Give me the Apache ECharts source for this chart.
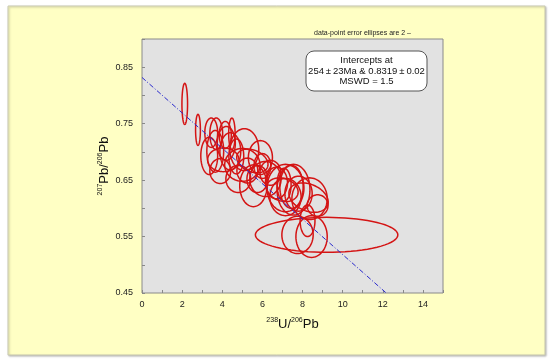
<!DOCTYPE html>
<html><head><meta charset="utf-8">
<script src="https://cdn.jsdelivr.net/npm/echarts@6/dist/echarts.min.js"></script>
<style>html,body{margin:0;padding:0;background:#fff;}#c{width:550px;height:364px;}</style>
</head><body><div id="c"></div>
<script>
// Error ellipse data (238U/206Pb, 207Pb/206Pb, half-axis x, half-axis y, correlation)
var ellX  = [2.13,2.79,3.45,3.70,4.15,4.48,5.10,3.35,4.05,5.00,5.50,4.80,5.75,6.15,7.00,7.08,7.45,8.35,8.75,5.55,7.15,7.55,8.30,7.75,8.25,8.45,9.20,7.15,7.80,3.65,4.40,4.70,3.90,5.25,6.00,6.40,4.20,6.70,5.90];
var ellY  = [0.785,0.739,0.734,0.732,0.730,0.732,0.704,0.693,0.686,0.677,0.684,0.652,0.652,0.652,0.633,0.642,0.638,0.617,0.605,0.640,0.636,0.633,0.619,0.553,0.578,0.550,0.553,0.620,0.626,0.701,0.701,0.692,0.666,0.667,0.675,0.663,0.715,0.645,0.690];
var ellSX = [0.14,0.12,0.32,0.32,0.30,0.16,0.72,0.42,0.78,0.88,0.78,0.62,0.52,0.78,0.78,0.35,0.58,0.88,0.52,0.68,0.92,0.82,0.98,0.78,0.37,0.78,3.55,0.78,0.68,0.42,0.52,0.37,0.52,0.52,0.42,0.52,0.45,0.55,0.60];
var ellSY = [0.0365,0.0276,0.026,0.028,0.024,0.028,0.037,0.033,0.021,0.029,0.021,0.024,0.024,0.031,0.021,0.029,0.038,0.037,0.019,0.037,0.042,0.045,0.026,0.033,0.028,0.037,0.031,0.033,0.031,0.037,0.033,0.031,0.022,0.022,0.022,0.022,0.030,0.028,0.030];
var ellR  = [0,0,0,0,0,0,0,0,0,0,-0.3,0,0,0,-0.2,0,0,0,0,0,0,0,-0.3,0,0,0,0,0,0,0,0,0,0,0,0,0,0,0,0];
// Discordia line
var lineX = [0, 12.17];
var lineY = [0.8319, 0.45];
var xTicks = [0,2,4,6,8,10,12,14];
var yTicks = ['0.45','0.55','0.65','0.75','0.85'];

var ellData = ellX.map(function(x,i){return [x, ellY[i], ellSX[i], ellSY[i], ellR[i]];});
var FONT = '"Liberation Sans", Arial, sans-serif';
var chart = echarts.init(document.getElementById('c'));
chart.setOption({
  animation:false,
  backgroundColor:'transparent',
  graphic:[
    {type:'rect', z:-100, shape:{x:8,y:6,width:537,height:349}, style:{fill:'#ffffc4', stroke:'#c8c8b0', lineWidth:1, shadowColor:'rgba(0,0,0,0.25)', shadowBlur:2, shadowOffsetX:1, shadowOffsetY:1}},
    {type:'text', z:10, x:411, y:30, style:{text:'data-point error ellipses are 2 \u2013', font:'7px '+FONT, fill:'#222', align:'right'}},
    {type:'rect', z:10, shape:{x:306,y:51,width:121,height:40,r:8}, style:{fill:'#fff', stroke:'#555', lineWidth:1}},
    {type:'text', z:11, x:366.5, y:71, style:{text:'Intercepts at\n254\u2009\u00b1\u200923Ma & 0.8319\u2009\u00b1\u20090.02\nMSWD = 1.5', font:'9.5px '+FONT, fill:'#111', align:'center', verticalAlign:'middle', lineHeight:10.5}}
  ],
  grid:{left:142, top:39, width:301, height:254, show:true, backgroundColor:'#e2e2e2', borderColor:'#8a8a8a', borderWidth:1},
  xAxis:{type:'value', min:0, max:15, interval:1,
    axisLine:{show:false}, splitLine:{show:false},
    axisTick:{inside:true, length:3, lineStyle:{color:'#888'}},
    axisLabel:{fontFamily:FONT, fontSize:9, color:'#222', margin:7,
      formatter:function(v){return xTicks.indexOf(v)>=0 ? String(v) : '';}},
    name:'{s|238}{m|U/}{s|206}{m|Pb}', nameLocation:'middle', nameGap:24,
    nameTextStyle:{rich:{s:{fontSize:7, fontFamily:FONT, color:'#111', verticalAlign:'top', lineHeight:14}, m:{fontSize:13, fontFamily:FONT, color:'#111', lineHeight:14}}}
  },
  yAxis:{type:'value', min:0.45, max:0.9, interval:0.05,
    axisLine:{show:false}, splitLine:{show:false},
    axisTick:{inside:true, length:3, lineStyle:{color:'#888'}},
    axisLabel:{fontFamily:FONT, fontSize:9, color:'#222', margin:9,
      formatter:function(v){var s=v.toFixed(2); return yTicks.indexOf(s)>=0 ? s : '';}},
    name:'{s|207}{m|Pb/}{s|206}{m|Pb}', nameLocation:'middle', nameGap:31, nameMoveOverlap:false,
    nameTextStyle:{rich:{s:{fontSize:7, fontFamily:FONT, color:'#111', verticalAlign:'top', lineHeight:14}, m:{fontSize:13, fontFamily:FONT, color:'#111', lineHeight:14}}}
  },
  series:[
    {type:'line', data:lineX.map(function(x,i){return [x,lineY[i]];}), symbol:'none', z:5,
      lineStyle:{color:'#2a2acc', width:1, type:[5,2,1,2]}},
    {type:'custom', z:4, clip:true, data:ellData,
      renderItem:function(params, api){
        var cx=api.value(0), cy=api.value(1), sx=api.value(2), sy=api.value(3), r=api.value(4);
        var pts=[]; var q=Math.sqrt(1-r*r);
        for(var k=0;k<72;k++){var t=k/72*Math.PI*2;
          pts.push(api.coord([cx+sx*Math.cos(t), cy+sy*(r*Math.cos(t)+q*Math.sin(t))]));}
        return {type:'polygon', shape:{points:pts}, style:{fill:'none', stroke:'#d41414', lineWidth:1.5}};
      }}
  ]
});
</script></body></html>
